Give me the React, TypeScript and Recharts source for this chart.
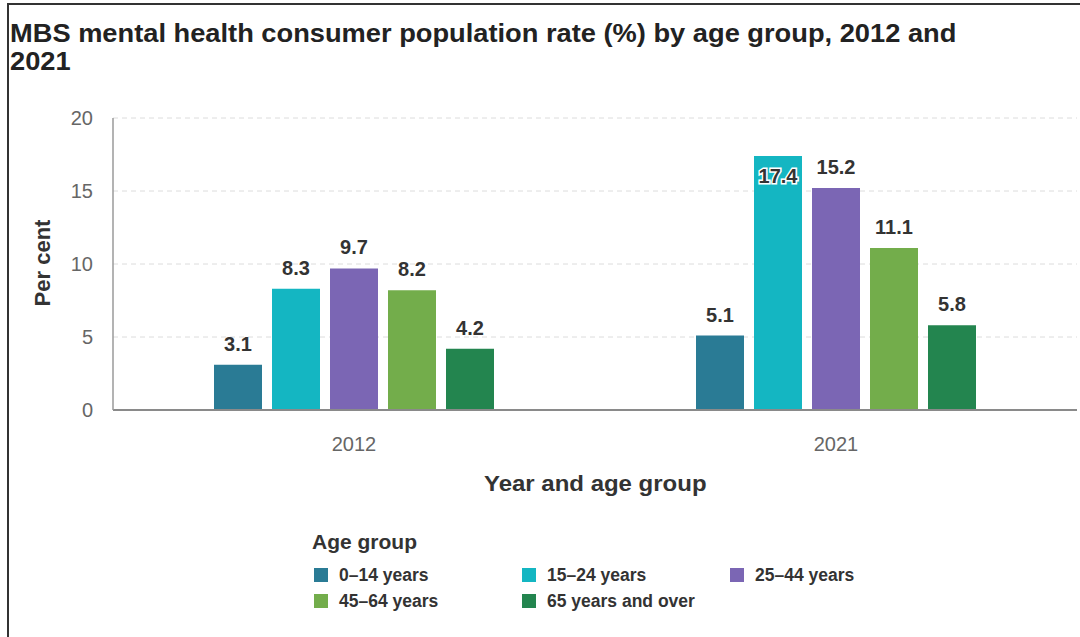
import { Bar, BarChart, CartesianGrid, LabelList, XAxis, YAxis } from "recharts";

const years = ["2012", "2021"];
const ageGroups = ["0–14 years", "15–24 years", "25–44 years", "45–64 years", "65 years and over"];
const age0to14 = [3.1, 5.1];
const age15to24 = [8.3, 17.4];
const age25to44 = [9.7, 15.2];
const age45to64 = [8.2, 11.1];
const age65plus = [4.2, 5.8];
const yTicks = [0, 5, 10, 15, 20];

const seriesKeys = ["a0_14", "a15_24", "a25_44", "a45_64", "a65"];
const seriesValues = [age0to14, age15to24, age25to44, age45to64, age65plus];
const colors = ["#2a7b95", "#14b6c2", "#7b66b4", "#73ad4b", "#23854f"];

const font = '"Liberation Sans", Arial, Helvetica, sans-serif';

const data = years.map((year, i) => {
  const row: Record<string, string | number> = { year };
  seriesKeys.forEach((key, s) => {
    row[key] = seriesValues[s][i];
  });
  return row;
});

// labels sit above the bar, except the tallest one which goes inside with a white halo
const renderValueLabel = (props: any) => {
  const { x, y, width, value } = props;
  const inside = Number(value) > 16;
  return (
    <text
      x={Number(x) + Number(width) / 2}
      y={inside ? Number(y) + 20 : Number(y) - 21}
      textAnchor="middle"
      dominantBaseline="central"
      fontSize={20}
      fontWeight="bold"
      fontFamily={font}
      fill="#333"
      stroke={inside ? "#fff" : "none"}
      strokeWidth={inside ? 3 : 0}
      paintOrder="stroke"
    >
      {value}
    </text>
  );
};

export default function App() {
  return (
    <div style={{ position: "absolute", left: 0, top: 0, width: 1080, height: 637, background: "#fff", fontFamily: font, overflow: "hidden" }}>
      <div style={{ position: "absolute", left: 7, top: 3, width: 1080, height: 640, borderTop: "2px solid #333", borderLeft: "2px solid #333" }} />

      <div style={{ position: "absolute", left: 10, top: 19, fontSize: 25, lineHeight: "28px", fontWeight: "bold", color: "#222", whiteSpace: "nowrap", transform: "scaleX(1.09)", transformOrigin: "left top" }}>
        MBS mental health consumer population rate (%) by age group, 2012 and
        <br />
        2021
      </div>

      <div style={{ position: "absolute", left: 0, top: 0 }}>
        <BarChart
          width={1080}
          height={637}
          data={data}
          margin={{ top: 118, right: 3, left: 0, bottom: 187 }}
          barSize={48}
          barGap={10}
        >
          <CartesianGrid vertical={false} stroke="#dcdcdc" strokeDasharray="5 4" />
          <XAxis
            dataKey="year"
            height={40}
            tickLine={false}
            axisLine={{ stroke: "#8a8a8a", strokeWidth: 2 }}
            tickMargin={21}
            tick={{ fontSize: 20, fill: "#666", fontFamily: font }}
          />
          <YAxis
            width={113}
            domain={[0, 20]}
            ticks={yTicks}
            tickLine={false}
            axisLine={{ stroke: "#9a9a9a", strokeWidth: 1.5 }}
            tickMargin={14}
            tick={{ fontSize: 20, fill: "#666", fontFamily: font }}
          />
          {seriesKeys.map((key, s) => (
            <Bar key={key} dataKey={key} name={ageGroups[s]} fill={colors[s]} isAnimationActive={false}>
              <LabelList dataKey={key} content={renderValueLabel} />
            </Bar>
          ))}
        </BarChart>
      </div>

      <div style={{ position: "absolute", left: 43, top: 263, transform: "translate(-50%, -50%) rotate(-90deg)", fontSize: 22, fontWeight: "bold", color: "#333", whiteSpace: "nowrap" }}>
        Per cent
      </div>

      <div style={{ position: "absolute", left: 484, top: 473, fontSize: 22, lineHeight: "22px", fontWeight: "bold", color: "#333", whiteSpace: "nowrap", transform: "scaleX(1.09)", transformOrigin: "left top" }}>
        Year and age group
      </div>

      <div style={{ position: "absolute", left: 312, top: 531, fontSize: 21, lineHeight: "21px", fontWeight: "bold", color: "#333", whiteSpace: "nowrap" }}>
        Age group
      </div>
      <div style={{ position: "absolute", left: 314, top: 562, display: "grid", gridTemplateColumns: "208px 208px 208px" }}>
        {ageGroups.map((label, s) => (
          <div key={label} style={{ display: "flex", alignItems: "center", height: 26 }}>
            <span style={{ width: 14, height: 14, background: colors[s], marginRight: 11, flexShrink: 0 }} />
            <span style={{ fontSize: 17.5, fontWeight: "bold", color: "#333", whiteSpace: "nowrap" }}>{label}</span>
          </div>
        ))}
      </div>
    </div>
  );
}
